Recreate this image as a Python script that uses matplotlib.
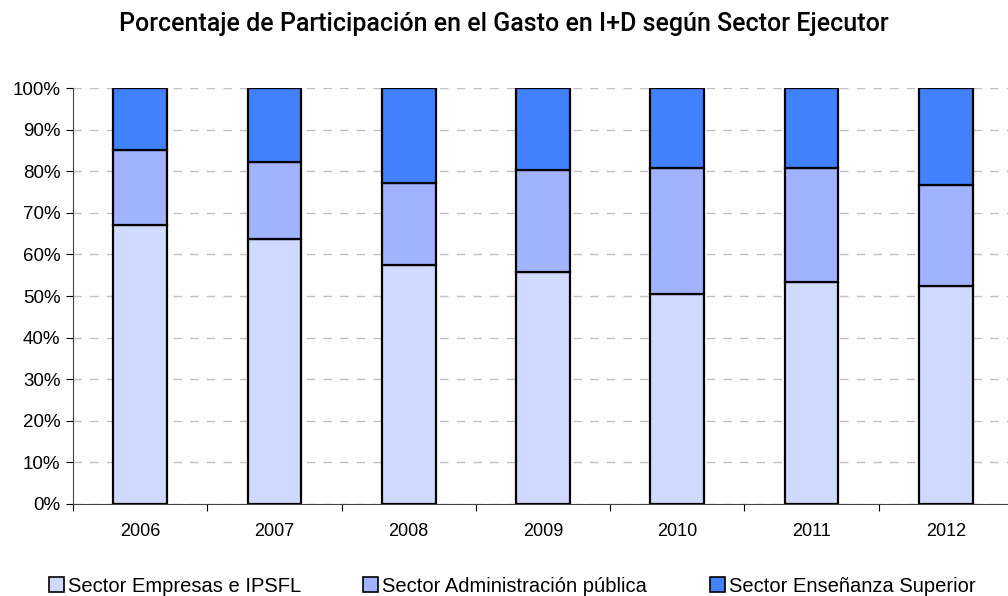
"""
Stacked 100% bar chart: share of R&D spending by executing sector.
"""

import matplotlib.pyplot as plt
from matplotlib.patches import Patch
from matplotlib.ticker import FuncFormatter, FixedLocator
import numpy as np

plt.rcParams['font.family'] = ['Liberation Sans', 'DejaVu Sans']

# Data (percent)
years = ['2006', '2007', '2008', '2009', '2010', '2011', '2012']
empresas = [67.1, 63.7, 57.5, 55.8, 50.6, 53.4, 52.5]
administracion = [18.0, 18.5, 19.7, 24.5, 30.1, 27.3, 24.2]
ensenanza = [100 - e - a for e, a in zip(empresas, administracion)]

labels = ['Sector Empresas e IPSFL', 'Sector Administración pública',
          'Sector Enseñanza Superior']
colors = ['#D0D9FF', '#A1B3FF', '#4282FF']

fig = plt.figure(figsize=(10.08, 5.96), dpi=100)
ax = fig.add_axes([0.0724, 0.1544, 0.9326, 0.6979])

x = np.arange(len(years))
bottom = np.zeros(len(years))
for vals, col in zip([empresas, administracion, ensenanza], colors):
    ax.bar(x, vals, width=0.4, bottom=bottom, color=col,
           edgecolor='black', linewidth=1.6, zorder=3)
    bottom += np.array(vals)

ax.set_ylim(0, 100)
ax.set_xlim(-0.5, len(years) - 0.5)
ax.set_yticks(np.arange(0, 101, 10))
ax.yaxis.set_major_formatter(FuncFormatter(lambda y, _: f'{y:.0f}%'))
ax.yaxis.grid(True, color='#c0c0c0', linestyle=(0, (6, 6)), linewidth=1)
ax.set_axisbelow(True)

# ticks between categories, labels at centers
ax.xaxis.set_major_locator(FixedLocator(np.arange(-0.5, len(years), 1.0)))
ax.xaxis.set_minor_locator(FixedLocator(x))
ax.set_xticklabels([], minor=False)
ax.set_xticklabels(years, minor=True)
ax.tick_params(axis='x', which='minor', length=0, pad=14, labelsize=13)
ax.tick_params(axis='x', which='major', length=5, direction='out')
ax.tick_params(axis='y', length=5, direction='out', labelsize=13.5, pad=4)

for side in ['top', 'right']:
    ax.spines[side].set_visible(False)
ax.spines['left'].set_color('#444444')
ax.spines['bottom'].set_color('#444444')

fig.suptitle('Porcentaje de Participación en el Gasto en I+D según Sector Ejecutor',
             fontsize=18, fontweight='medium', family=['Roboto', 'DejaVu Sans'],
             x=0.5, y=0.98)

handles = [Patch(facecolor=c, edgecolor='black', linewidth=1.2) for c in colors]
fig.legend(handles, labels, loc='lower center', bbox_to_anchor=(0.508, -0.03),
           ncol=3, frameon=False, fontsize=14.5, handlelength=0.75,
           handleheight=0.75, handletextpad=0.2, columnspacing=3.1)

plt.savefig('out.png', dpi=100)
plt.close()
